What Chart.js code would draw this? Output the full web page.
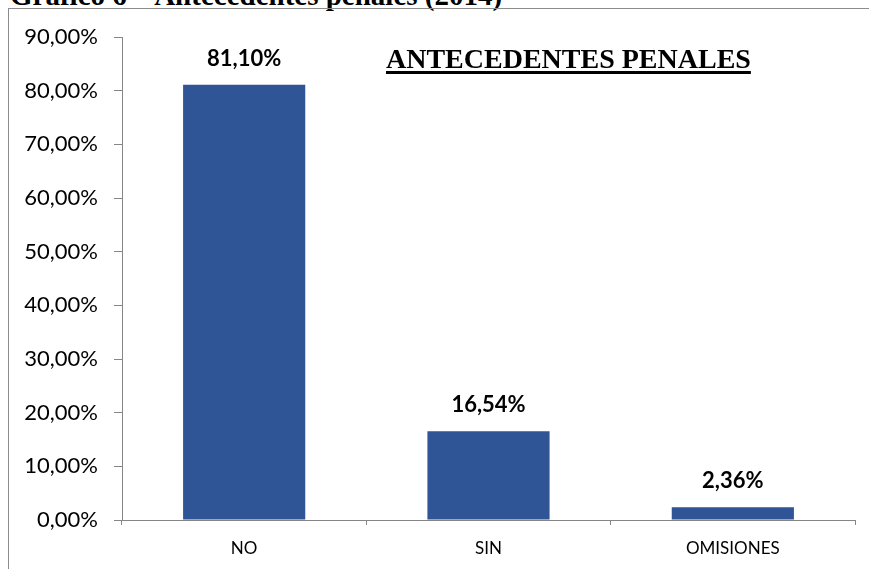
<!DOCTYPE html>
<html lang="es">
<head>
<meta charset="utf-8">
<title>Antecedentes penales</title>
<script src="https://cdn.jsdelivr.net/npm/chart.js@4/dist/chart.umd.min.js"></script>
<style>
  html, body { margin: 0; padding: 0; background: #fff; }
  .page { position: relative; width: 869px; height: 569px; overflow: hidden; }
  /* encabezado del documento, recortado arriba como en el original */
  .doc-caption {
    position: absolute; left: 10px; top: -19px; line-height: 29px;
    font-family: "Liberation Serif", "Times New Roman", serif;
    font-weight: bold; font-size: 29px;
    color: #000; white-space: nowrap;
  }
  .frame {
    position: absolute; left: 8px; top: 8px; width: 900px; height: 600px;
    border-left: 1px solid #8c8c8c; border-top: 1px solid #8c8c8c;
  }
  .chart-title {
    position: absolute; left: 386px; top: 45px; line-height: 28px;
    font-family: "Liberation Serif", "Times New Roman", serif;
    font-weight: bold; font-size: 28px;
    text-decoration: underline; text-decoration-thickness: 3px;
    text-underline-offset: 3px; color: #000; white-space: nowrap;
  }
  #chart { position: absolute; left: 0; top: 0; }
</style>
</head>
<body>
<div class="page">
  <div class="doc-caption">Gráfico 6 – Antecedentes penales (2014)</div>
  <div class="frame"></div>
  <canvas id="chart" width="869" height="569"></canvas>
  <div class="chart-title">ANTECEDENTES PENALES</div>
</div>

<script>
  // Datos del gráfico
  const categories = ['NO', 'SIN', 'OMISIONES'];
  const percentages = [81.10, 16.54, 2.36];
  const yTicks = [0, 10, 20, 30, 40, 50, 60, 70, 80, 90];

  const BAR_COLOR = '#2f5597';
  const AXIS_COLOR = '#868686';

  const fmt = (v) => v.toFixed(2).replace('.', ',') + '%';

  // Etiquetas de valor encima de cada barra
  const valueLabels = {
    id: 'valueLabels',
    afterDatasetsDraw(chart) {
      const { ctx } = chart;
      const meta = chart.getDatasetMeta(0);
      ctx.save();
      ctx.font = 'bold 22px Lato, "Open Sans", sans-serif';
      ctx.fillStyle = '#000';
      ctx.textAlign = 'center';
      ctx.textBaseline = 'alphabetic';
      meta.data.forEach((bar, i) => {
        ctx.fillText(fmt(percentages[i]), bar.x, bar.y - 19);
      });
      ctx.restore();
    }
  };

  new Chart(document.getElementById('chart'), {
    type: 'bar',
    data: {
      labels: categories,
      datasets: [{
        data: percentages,
        backgroundColor: BAR_COLOR,
        borderWidth: 0,
        categoryPercentage: 1,
        barPercentage: 0.5,
      }],
    },
    options: {
      responsive: false,
      animation: false,
      layout: { padding: { top: 37, right: 14, left: 0, bottom: 0 } },
      plugins: {
        legend: { display: false },
        tooltip: { enabled: false },
      },
      scales: {
        y: {
          min: 0,
          max: 90,
          afterFit: (s) => { s.width = 122; },
          afterBuildTicks: (s) => { s.ticks = yTicks.map((v) => ({ value: v })); },
          border: { color: AXIS_COLOR, width: 1 },
          grid: { drawOnChartArea: false, drawTicks: true, tickLength: 8, color: AXIS_COLOR },
          ticks: {
            padding: 16,
            color: '#000',
            font: { family: 'Lato, "Open Sans", sans-serif', size: 22 },
            callback: (v) => fmt(v),
          },
        },
        x: {
          afterFit: (s) => { s.height = 49; },
          border: { color: AXIS_COLOR, width: 1 },
          grid: { drawOnChartArea: false, drawTicks: true, tickLength: 5, color: AXIS_COLOR, offset: true },
          ticks: {
            padding: 13,
            color: '#000',
            font: { family: 'Lato, "Open Sans", sans-serif', size: 17 },
          },
        },
      },
    },
    plugins: [valueLabels],
  });
</script>
</body>
</html>
